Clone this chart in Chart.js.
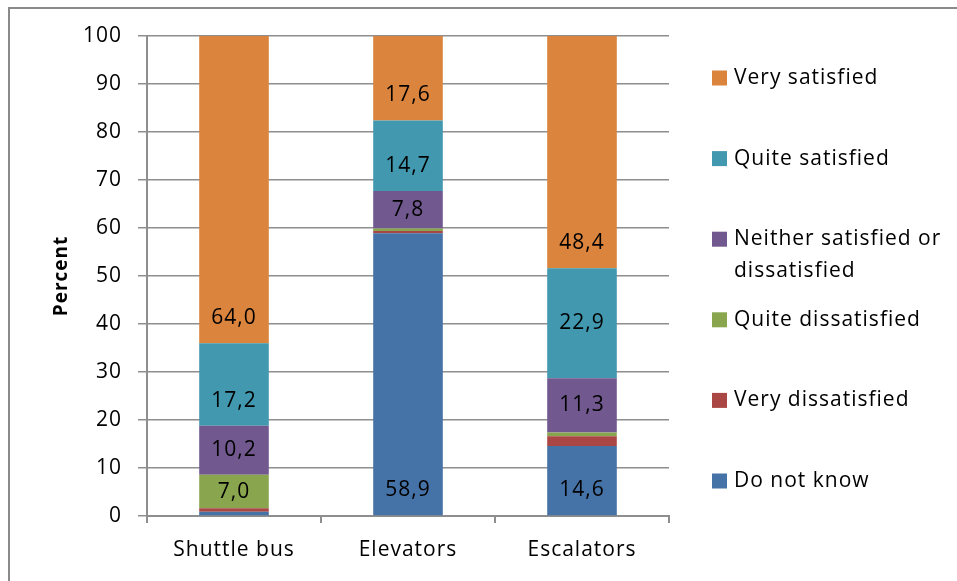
<!DOCTYPE html>
<html>
<head>
<meta charset="utf-8">
<script src="https://cdn.jsdelivr.net/npm/chart.js@4.4.0/dist/chart.umd.min.js"></script>
<style>
    body { margin: 0; background: #fff; overflow: hidden; }
    #wrap { position: relative; width: 957px; height: 581px; overflow: hidden; }
    #frame { position: absolute; left: 8px; top: 7px; width: 1000px; height: 1000px; border: 2px solid #8a8a8a; }
    canvas { position: absolute; left: 0; top: 0; }
</style>
</head>
<body>
<div id="wrap">
    <div id="frame"></div>
    <canvas id="satisfactionChart" width="957" height="581"></canvas>
</div>
<script>
// categorias e valores
const categories = ['Shuttle bus', 'Elevators', 'Escalators'];
const doNotKnow = [0.9, 58.9, 14.6];
const veryDissatisfied = [0.7, 0.5, 2.0];
const quiteDissatisfied = [7.0, 0.5, 0.8];
const neitherNor = [10.2, 7.8, 11.3];
const quiteSatisfied = [17.2, 14.7, 22.9];
const verySatisfied = [64.0, 17.6, 48.4];
const yTicks = [0, 10, 20, 30, 40, 50, 60, 70, 80, 90, 100];

const FONT = "'Open Sans', sans-serif";
const GRID = '#8e8e8e';

// legenda + rotulos desenhados na mao
const labelsPlugin = {
    id: 'labelsPlugin',
    beforeDraw(chart) {
        chart.ctx.letterSpacing = '1px';
    },
    afterDatasetsDraw(chart) {
        const ctx = chart.ctx;
        ctx.save();
        ctx.letterSpacing = '1px';
        ctx.font = '21px ' + FONT;
        ctx.fillStyle = '#000';
        ctx.textAlign = 'center';
        ctx.textBaseline = 'middle';
        chart.data.datasets.forEach((ds, i) => {
            const meta = chart.getDatasetMeta(i);
            meta.data.forEach((bar, j) => {
                const v = ds.data[j];
                if (v < 5) return;
                const p = bar.getProps(['x', 'y', 'base'], true);
                const h = p.base - p.y;
                let y = (p.y + p.base) / 2;
                const pos = ds.labelPos ? ds.labelPos[j] : 'auto';
                if (pos !== 'center' && h > 60) y = p.base - 25;
                ctx.fillText(v.toFixed(1).replace('.', ','), p.x, y);
            });
        });
        ctx.restore();

        // legenda (ordem invertida)
        ctx.save();
        ctx.letterSpacing = '1px';
        ctx.font = '21px ' + FONT;
        ctx.textAlign = 'left';
        ctx.textBaseline = 'middle';
        const items = chart.data.datasets.slice().reverse();
        items.forEach((ds, k) => {
            const cy = 78 + k * 80.6;
            ctx.fillStyle = ds.backgroundColor;
            ctx.fillRect(712, cy - 7.5, 15, 15);
            ctx.fillStyle = '#000';
            const lines = Array.isArray(ds.legendText) ? ds.legendText : [ds.label];
            lines.forEach((t, n) => ctx.fillText(t, 734, cy + n * 32));
        });
        ctx.restore();
    }
};

const ctxSat = document.getElementById('satisfactionChart').getContext('2d');
const satisfactionChart = new Chart(ctxSat, {
    type: 'bar',
    data: {
        labels: categories,
        datasets: [
            { label: 'Do not know', data: doNotKnow, backgroundColor: '#4572A7' },
            { label: 'Very dissatisfied', data: veryDissatisfied, backgroundColor: '#AA4643' },
            { label: 'Quite dissatisfied', data: quiteDissatisfied, backgroundColor: '#89A54E' },
            { label: 'Neither satisfied or dissatisfied', legendText: ['Neither satisfied or', 'dissatisfied'], data: neitherNor, backgroundColor: '#71588F' },
            { label: 'Quite satisfied', data: quiteSatisfied, backgroundColor: '#4198AF', labelPos: ['auto', 'auto', 'center'] },
            { label: 'Very satisfied', data: verySatisfied, backgroundColor: '#DB843D' }
        ]
    },
    options: {
        responsive: false,
        animation: false,
        layout: {
            padding: { left: 0, right: 288, top: 36, bottom: 0 }
        },
        datasets: {
            bar: {
                barPercentage: 0.4,
                categoryPercentage: 1
            }
        },
        scales: {
            x: {
                stacked: true,
                afterFit(scale) { scale.height = 65; },
                border: { color: GRID, width: 2 },
                grid: {
                    offset: true,
                    drawOnChartArea: false,
                    color: GRID,
                    lineWidth: 2,
                    tickLength: 7
                },
                ticks: {
                    color: '#000',
                    font: { family: FONT, size: 21 },
                    padding: 14,
                    maxRotation: 0
                }
            },
            y: {
                stacked: true,
                min: 0,
                max: 100,
                afterFit(scale) { scale.width = 147; },
                afterBuildTicks(scale) { scale.ticks = yTicks.map(v => ({ value: v })); },
                border: { color: GRID, width: 2 },
                grid: {
                    color: GRID,
                    lineWidth: 1.5,
                    tickLength: 9
                },
                ticks: {
                    color: '#000',
                    font: { family: FONT, size: 21 },
                    padding: 16
                },
                title: {
                    display: true,
                    text: 'Percent',
                    color: '#000',
                    font: { family: FONT, size: 19, weight: 'bold' },
                    padding: { top: 50, bottom: 0 }
                }
            }
        },
        plugins: {
            legend: { display: false },
            tooltip: { enabled: false }
        }
    },
    plugins: [labelsPlugin]
});
</script>
</body>
</html>
